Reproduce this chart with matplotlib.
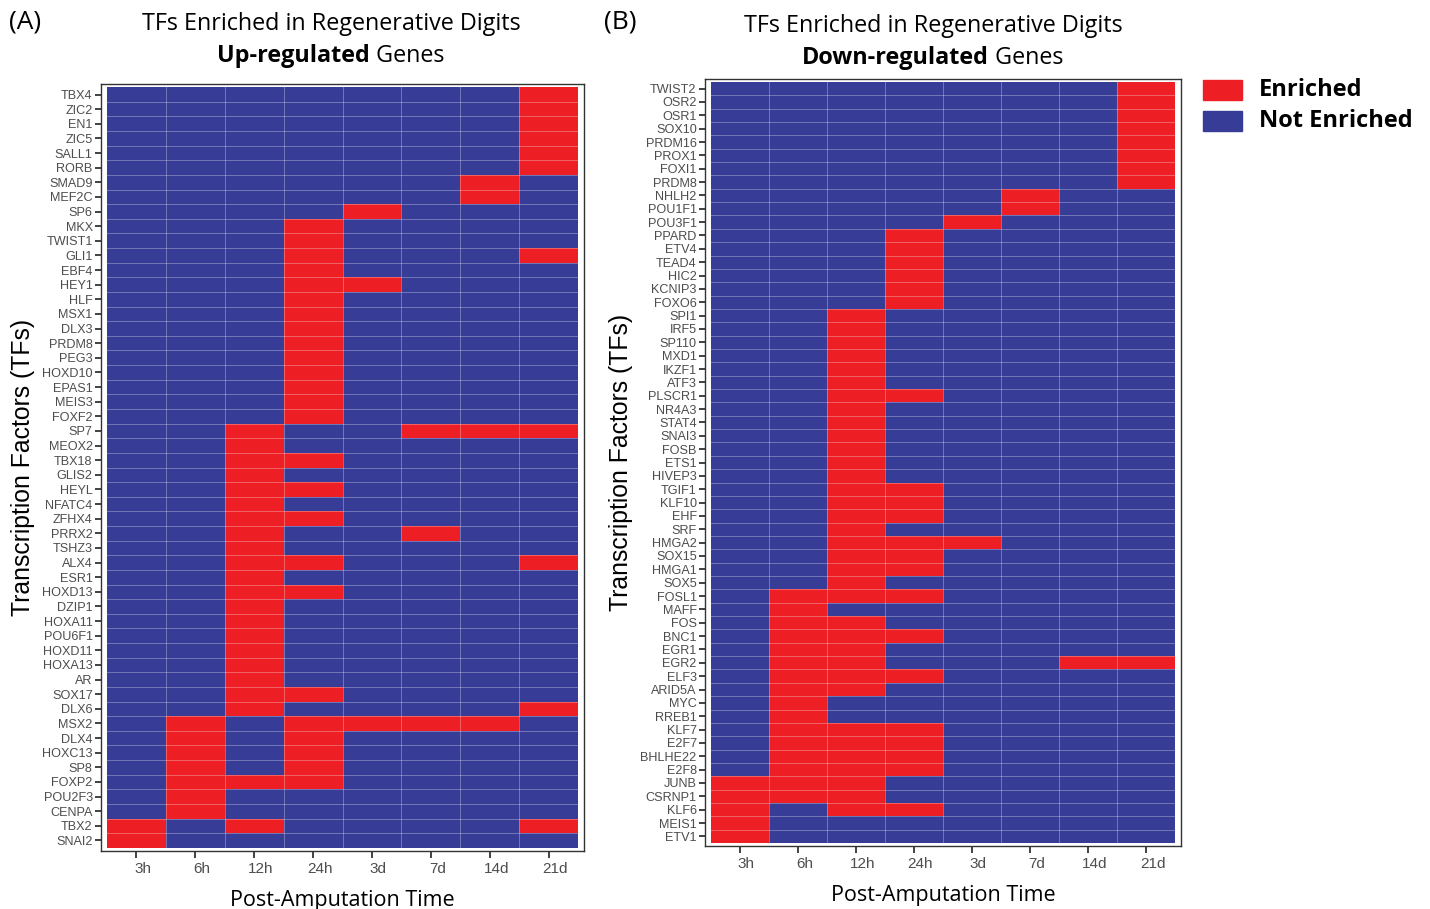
import numpy as np
import matplotlib
matplotlib.use('Agg')
import matplotlib.pyplot as plt
from matplotlib.colors import ListedColormap
from matplotlib.patches import Rectangle

times = ['3h', '6h', '12h', '24h', '3d', '7d', '14d', '21d']

genes_up = ['TBX4', 'ZIC2', 'EN1', 'ZIC5', 'SALL1', 'RORB', 'SMAD9', 'MEF2C', 'SP6',
            'MKX', 'TWIST1', 'GLI1', 'EBF4', 'HEY1', 'HLF', 'MSX1', 'DLX3', 'PRDM8',
            'PEG3', 'HOXD10', 'EPAS1', 'MEIS3', 'FOXF2', 'SP7', 'MEOX2', 'TBX18',
            'GLIS2', 'HEYL', 'NFATC4', 'ZFHX4', 'PRRX2', 'TSHZ3', 'ALX4', 'ESR1',
            'HOXD13', 'DZIP1', 'HOXA11', 'POU6F1', 'HOXD11', 'HOXA13', 'AR', 'SOX17',
            'DLX6', 'MSX2', 'DLX4', 'HOXC13', 'SP8', 'FOXP2', 'POU2F3', 'CENPA',
            'TBX2', 'SNAI2']
# enriched time points (index into times) per gene
enriched_up = [[7], [7], [7], [7], [7], [7], [6], [6], [4],
               [3], [3], [3, 7], [3], [3, 4], [3], [3], [3], [3],
               [3], [3], [3], [3], [3], [2, 5, 6, 7], [2], [2, 3],
               [2], [2, 3], [2], [2, 3], [2, 5], [2], [2, 3, 7], [2],
               [2, 3], [2], [2], [2], [2], [2], [2], [2, 3],
               [2, 7], [1, 3, 4, 5, 6], [1, 3], [1, 3], [1, 3], [1, 2, 3], [1], [1],
               [0, 2, 7], [0]]

genes_down = ['TWIST2', 'OSR2', 'OSR1', 'SOX10', 'PRDM16', 'PROX1', 'FOXI1', 'PRDM8',
              'NHLH2', 'POU1F1', 'POU3F1', 'PPARD', 'ETV4', 'TEAD4', 'HIC2', 'KCNIP3',
              'FOXO6', 'SPI1', 'IRF5', 'SP110', 'MXD1', 'IKZF1', 'ATF3', 'PLSCR1',
              'NR4A3', 'STAT4', 'SNAI3', 'FOSB', 'ETS1', 'HIVEP3', 'TGIF1', 'KLF10',
              'EHF', 'SRF', 'HMGA2', 'SOX15', 'HMGA1', 'SOX5', 'FOSL1', 'MAFF', 'FOS',
              'BNC1', 'EGR1', 'EGR2', 'ELF3', 'ARID5A', 'MYC', 'RREB1', 'KLF7', 'E2F7',
              'BHLHE22', 'E2F8', 'JUNB', 'CSRNP1', 'KLF6', 'MEIS1', 'ETV1']
enriched_down = [[7], [7], [7], [7], [7], [7], [7], [7],
                 [5], [5], [4], [3], [3], [3], [3], [3],
                 [3], [2], [2], [2], [2], [2], [2], [2, 3],
                 [2], [2], [2], [2], [2], [2], [2, 3], [2, 3],
                 [2, 3], [2], [2, 3, 4], [2, 3], [2, 3], [2], [1, 2, 3], [1], [1, 2],
                 [1, 2, 3], [1, 2], [1, 2, 6, 7], [1, 2, 3], [1, 2], [1], [1], [1, 2, 3], [1, 2, 3],
                 [1, 2, 3], [1, 2, 3], [0, 1, 2], [0, 1, 2], [0, 2, 3], [0], [0]]

RED = '#ED1F24'
BLUE = '#373C97'
TICK = '#4D4D4D'
SANS = ['Liberation Sans', 'DejaVu Sans']
HUM = ['Open Sans', 'DejaVu Sans']

W, H = 1430, 909
fig = plt.figure(figsize=(W / 100, H / 100), dpi=100)


def px_axes(x0, y0, x1, y1):
    return fig.add_axes([x0 / W, 1 - y1 / H, (x1 - x0) / W, (y1 - y0) / H])


def heatmap(ax, genes, enriched):
    n = len(genes)
    mat = np.zeros((n, len(times)))
    for i, cols in enumerate(enriched):
        mat[i, cols] = 1
    ax.pcolormesh(np.arange(len(times) + 1) - 0.5, np.arange(n + 1) - 0.5, mat,
                  cmap=ListedColormap([BLUE, RED]), vmin=0, vmax=1)
    for x in np.arange(len(times) - 1) + 0.5:
        ax.axvline(x, color='white', lw=0.6, alpha=0.35)
    for y in np.arange(n - 1) + 0.5:
        ax.axhline(y, color='white', lw=0.6, alpha=0.35)
    ax.set_xlim(-0.6, len(times) - 0.4)
    ax.set_ylim(n - 0.5 + 0.22, -0.5 - 0.22)
    ax.set_yticks(range(n))
    ax.set_yticklabels(genes, family=SANS, fontsize=9.1, color=TICK)
    # tick marks at cell centres, labels sit slightly to the right
    ax.set_xticks(range(len(times)))
    ax.set_xticklabels([])
    ax.set_xticks(np.arange(len(times)) + 0.11, minor=True)
    ax.set_xticklabels(times, minor=True, family=SANS, fontsize=11, color=TICK)
    ax.tick_params(axis='x', which='minor', length=0, pad=8)
    ax.tick_params(axis='both', which='major', length=4, width=1.3,
                   color='#333333', pad=2)
    ax.tick_params(axis='x', which='major', length=5)
    for sp in ax.spines.values():
        sp.set_color('#333333')
        sp.set_linewidth(1.0)
    ax.set_xlabel('Post-Amputation Time', family=HUM, fontsize=15.5, labelpad=10)
    ax.set_ylabel('Transcription Factors (TFs)', family=SANS, fontsize=17.8,
                  labelpad=5)


axA = px_axes(101, 84, 584, 851)
heatmap(axA, genes_up, enriched_up)
axB = px_axes(705, 79, 1181, 846)
heatmap(axB, genes_down, enriched_down)

# titles
fig.text(25 / W, 1 - 22 / H, '(A)', family=HUM, fontsize=19, ha='center', va='center')
fig.text(620 / W, 1 - 22 / H, '(B)', family=HUM, fontsize=19, ha='center', va='center')
fig.text(331 / W, 1 - 24 / H, 'TFs Enriched in Regenerative Digits', family=HUM,
         fontsize=16.8, ha='center', va='center')
fig.text(933 / W, 1 - 26 / H, 'TFs Enriched in Regenerative Digits', family=HUM,
         fontsize=16.8, ha='center', va='center')

fig.canvas.draw()
rend = fig.canvas.get_renderer()
for cx, cy, bold_part in [(331, 56, 'Up-regulated'), (933, 58, 'Down-regulated')]:
    t1 = fig.text(0, 1 - cy / H, bold_part, family=HUM, fontsize=16.8,
                  fontweight='bold', ha='left', va='center')
    t2 = fig.text(0, 1 - cy / H, ' Genes', family=HUM, fontsize=16.8,
                  ha='left', va='center')
    w1 = t1.get_window_extent(rend).width
    w2 = t2.get_window_extent(rend).width
    x0 = cx - (w1 + w2) / 2
    t1.set_x(x0 / W)
    t2.set_x((x0 + w1) / W)

# legend
for y0, c, lab in [(80, RED, 'Enriched'), (111, BLUE, 'Not Enriched')]:
    fig.patches.append(Rectangle((1203 / W, 1 - (y0 + 20) / H), 39 / W, 20 / H,
                                 transform=fig.transFigure, color=c))
    fig.text(1259 / W, 1 - (y0 + 10) / H, lab, family=HUM, fontsize=17,
             fontweight='bold', ha='left', va='center')

plt.savefig('out.png', dpi=100)
plt.close()
